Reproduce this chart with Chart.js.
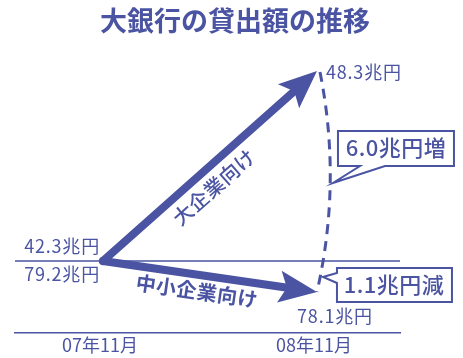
<!DOCTYPE html>
<html>
<head>
<meta charset="utf-8">
<script src="https://cdn.jsdelivr.net/npm/chart.js@4.4.1/dist/chart.umd.min.js"></script>
<style>
  html, body { margin: 0; padding: 0; background: #fff; }
  #wrap { width: 463px; height: 358px; }
</style>
</head>
<body>
<div id="wrap"><canvas id="c"></canvas></div>
<script>
// 値（兆円）
var periods = ["07年11月", "08年11月"];
var largeVals = [42.3, 48.3];   // 大企業向け
var smallVals = [79.2, 78.1];   // 中小企業向け
var diffLabels = ["6.0兆円増", "1.1兆円減"];
var seriesNames = ["大企業向け", "中小企業向け"];
var titleText = "大銀行の貸出額の推移";

var BLUE = "#4a54a2";
var FONT = "'Noto Sans CJK JP', 'Noto Sans', sans-serif";

function pts(vals) {
    return vals.map(function (v, i) { return { x: i, y: v }; });
}

function arrowHead(ctx, from, to, len, half) {
    var a = Math.atan2(to.y - from.y, to.x - from.x);
    ctx.save();
    ctx.translate(to.x, to.y);
    ctx.rotate(a);
    ctx.beginPath();
    ctx.moveTo(0, 0);
    ctx.lineTo(-len, -half);
    ctx.lineTo(-len * 0.8, 0);
    ctx.lineTo(-len, half);
    ctx.closePath();
    ctx.fillStyle = BLUE;
    ctx.fill();
    ctx.restore();
}

function text(ctx, s, x, y, size, align, weight, angle, spacing) {
    ctx.save();
    ctx.translate(x, y);
    if (angle) ctx.rotate(angle);
    ctx.font = (weight || "normal") + " " + size + "px " + FONT;
    ctx.letterSpacing = spacing || "0px";
    ctx.fillStyle = BLUE;
    ctx.textAlign = align || "center";
    ctx.textBaseline = "middle";
    ctx.fillText(s, 0, 0);
    ctx.restore();
}

function callout(ctx, poly, label, cx, cy) {
    ctx.save();
    ctx.beginPath();
    ctx.moveTo(poly[0][0], poly[0][1]);
    for (var i = 1; i < poly.length; i++) ctx.lineTo(poly[i][0], poly[i][1]);
    ctx.closePath();
    ctx.fillStyle = "#fff";
    ctx.fill();
    ctx.lineWidth = 2;
    ctx.strokeStyle = BLUE;
    ctx.lineJoin = "miter";
    ctx.stroke();
    ctx.restore();
    text(ctx, label, cx, cy, 22, "center", "500", 0, "0.5px");
}

var schema = {
    id: "schema",
    beforeDatasetsDraw: function (chart) {
        var ctx = chart.ctx, ca = chart.chartArea;
        var y0 = chart.scales.yL.getPixelForValue(largeVals[0]);
        ctx.save();
        ctx.strokeStyle = BLUE;
        ctx.lineWidth = 1.5;
        ctx.beginPath();
        ctx.moveTo(ca.left, y0);
        ctx.lineTo(ca.right, y0);
        ctx.stroke();
        ctx.restore();
    },
    beforeDatasetDraw: function (chart, args) {
        // 矢じりの下で線の端を隠す
        var ctx = chart.ctx;
        var p = chart.getDatasetMeta(args.index).data[1];
        ctx.save();
        ctx.beginPath();
        ctx.rect(0, 0, chart.width, chart.height);
        ctx.arc(p.x, p.y, 18, 0, Math.PI * 2, true);
        ctx.clip("evenodd");
    },
    afterDatasetDraw: function (chart) {
        chart.ctx.restore();
    },
    afterDatasetsDraw: function (chart) {
        var ctx = chart.ctx;
        var L = chart.getDatasetMeta(0).data;
        var S = chart.getDatasetMeta(1).data;

        arrowHead(ctx, L[0], L[1], 38, 16);
        arrowHead(ctx, S[0], S[1], 38, 16);

        // 破線の弧
        var top = { x: L[1].x + 3, y: L[1].y + 1 };
        var bot = { x: S[1].x, y: S[1].y };
        ctx.save();
        ctx.strokeStyle = BLUE;
        ctx.lineWidth = 3;
        ctx.setLineDash([10, 7]);
        ctx.beginPath();
        ctx.moveTo(top.x, top.y);
        ctx.quadraticCurveTo(top.x + 22, (top.y + bot.y) / 2, bot.x, bot.y);
        ctx.stroke();
        ctx.restore();

        // 値ラベル
        var sp = "0.8px";
        text(ctx, largeVals[0].toFixed(1) + "兆円", L[0].x - 3, L[0].y - 15, 18, "right", "normal", 0, sp);
        text(ctx, smallVals[0].toFixed(1) + "兆円", S[0].x - 3, S[0].y + 13, 18, "right", "normal", 0, sp);
        text(ctx, largeVals[1].toFixed(1) + "兆円", L[1].x + 9, L[1].y + 1, 18, "left", "normal", 0, sp);
        text(ctx, smallVals[1].toFixed(1) + "兆円", S[1].x + 18, S[1].y + 24, 18, "center", "normal", 0, sp);

        // 系列名
        var aL = Math.atan2(L[1].y - L[0].y, L[1].x - L[0].x);
        var aS = Math.atan2(S[1].y - S[0].y, S[1].x - S[0].x);
        text(ctx, seriesNames[0], 214, 187, 20, "center", "500", aL, "0.5px");
        text(ctx, seriesNames[1], 197, 291, 20, "center", "bold", aS, "0.5px");

        // 吹き出し
        var bx = L[1].x;
        callout(ctx, [[bx + 21, 131], [bx + 137, 131], [bx + 137, 166], [bx + 68, 166],
                      [bx + 16, 183], [bx + 43, 166], [bx + 21, 166]],
                diffLabels[0], bx + 79, 148);
        callout(ctx, [[bx + 20, 268], [bx + 135, 268], [bx + 135, 302], [bx + 20, 302],
                      [bx + 20, 283], [bx + 6, 277], [bx + 20, 273]],
                diffLabels[1], bx + 77, 285);

        // タイトル
        text(ctx, titleText, 235, 21, 27, "center", "bold");
    }
};

new Chart(document.getElementById("c"), {
    type: "line",
    data: {
        datasets: [
            {
                label: seriesNames[0],
                data: pts(largeVals),
                yAxisID: "yL",
                borderColor: BLUE,
                borderWidth: 8,
                borderJoinStyle: "round",
                borderCapStyle: "round",
                pointRadius: 0,
                fill: false,
            },
            {
                label: seriesNames[1],
                data: pts(smallVals),
                yAxisID: "yS",
                borderColor: BLUE,
                borderWidth: 8,
                borderCapStyle: "round",
                pointRadius: 0,
                fill: false,
            },
        ],
    },
    options: {
        responsive: true,
        maintainAspectRatio: false,
        animation: false,
        layout: { padding: { left: 15, right: 63, top: 40, bottom: 0 } },
        plugins: {
            legend: { display: false },
            tooltip: { enabled: false },
        },
        scales: {
            x: {
                type: "linear",
                min: -0.411,
                max: 1.388,
                grid: { display: false, drawTicks: false },
                border: { display: true, color: BLUE, width: 1.5 },
                afterBuildTicks: function (axis) {
                    axis.ticks = periods.map(function (p, i) { return { value: i }; });
                },
                afterFit: function (axis) { axis.height = 25; },
                ticks: {
                    color: BLUE,
                    font: { family: FONT, size: 18 },
                    padding: 1,
                    maxRotation: 0,
                    labelOffset: -3,
                    callback: function (v, i) { return periods[i]; },
                },
            },
            yL: {
                type: "linear",
                display: false,
                min: 40.027,
                max: 49.278,
            },
            yS: {
                type: "linear",
                display: false,
                min: 76.645,
                max: 87.042,
            },
        },
    },
    plugins: [schema],
});
</script>
</body>
</html>
